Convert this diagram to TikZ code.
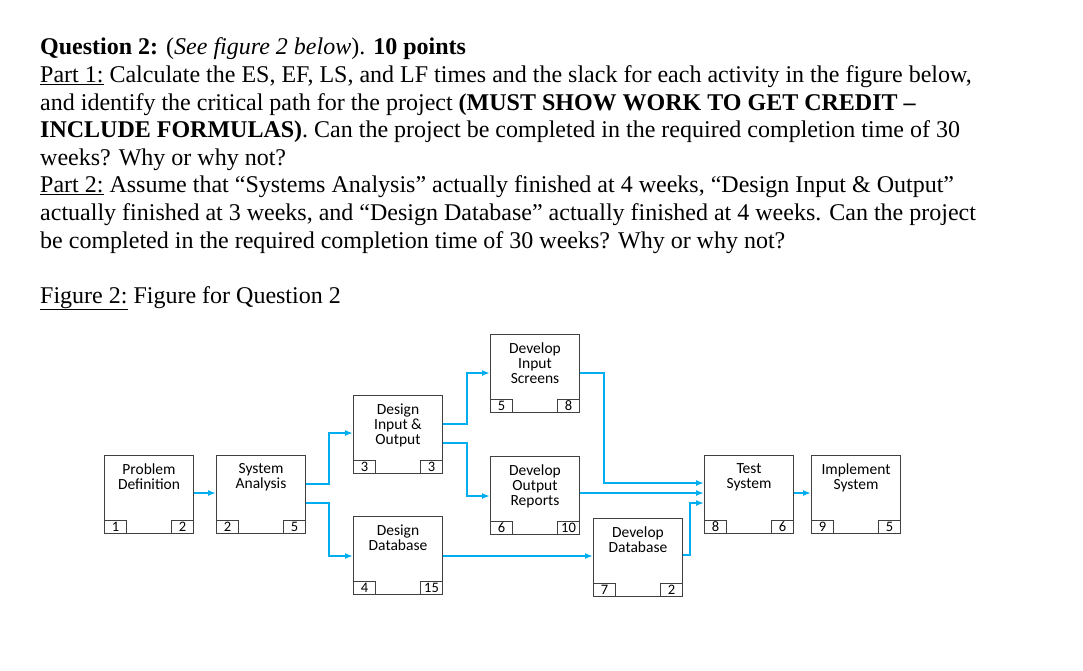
\documentclass[tikz,border=0pt]{standalone}
\usepackage{fontspec}
\setmainfont{Liberation Serif}
\newfontfamily\boxfont{Carlito}
\usetikzlibrary{arrows.meta}
\definecolor{arr}{RGB}{0,174,239}
\tikzset{
  act/.style={draw=black!75,line width=1pt,minimum width=89pt,minimum height=78pt,inner sep=0pt},
  lbl/.style={font=\boxfont\fontsize{15.5}{15}\selectfont,align=center,anchor=north},
  num/.style={draw=black!75,line width=1pt,minimum width=22pt,minimum height=13pt,inner sep=0pt,font=\boxfont\fontsize{14.5}{13}\selectfont},
  con/.style={arr,line width=1.8pt,-{Latex[length=8pt,width=6pt]}},
  txt/.style={anchor=base west,inner sep=0pt,font=\fontsize{24}{27}\selectfont}
}
\newcommand{\actbox}[6]{% name, x, y (top-left), label, n1, n2
  \node[act,anchor=north west] (#1) at (#2,#3) {};
  \node[lbl] (#1l) at ([yshift=-5pt]#1.north) {#4};
  \node[num,anchor=south west] (#1a) at (#1.south west) {#5};
  \node[num,anchor=south east] (#1b) at (#1.south east) {#6};
}
\begin{document}
\begin{tikzpicture}[x=1pt,y=-1pt]
\useasboundingbox (0,0) rectangle (1083,670);
\node[txt] (t1) at (40,54) {\textbf{Question 2:} (\textit{See figure 2 below}). \textbf{10 points}};
\node[txt] (t2) at (40,82) {\underline{Part 1:} Calculate the ES, EF, LS, and LF times and the slack for each activity in the figure below,};
\node[txt] (t3) at (40,110) {and identify the critical path for the project \textbf{(MUST SHOW WORK TO GET CREDIT –}};
\node[txt] (t4) at (40,137) {\textbf{INCLUDE FORMULAS)}. Can the project be completed in the required completion time of 30};
\node[txt] (t5) at (40,165) {weeks? Why or why not?};
\node[txt] (t6) at (40,192) {\underline{Part 2:} Assume that “Systems Analysis” actually finished at 4 weeks, “Design Input \& Output”};
\node[txt] (t7) at (40,220) {actually finished at 3 weeks, and “Design Database” actually finished at 4 weeks. Can the project};
\node[txt] (t8) at (40,248) {be completed in the required completion time of 30 weeks? Why or why not?};
\node[txt] (t9) at (40,303) {\underline{Figure 2:} Figure for Question 2};

\actbox{pd}{104}{455}{Problem\\Definition}{1}{2}
\actbox{sa}{216}{455}{System\\Analysis}{2}{5}
\actbox{dio}{353}{395}{Design\\Input \&\\Output}{3}{3}
\actbox{dd}{353}{516}{Design\\Database}{4}{15}
\actbox{dis}{490}{334}{Develop\\Input\\Screens}{5}{8}
\actbox{dor}{490}{456}{Develop\\Output\\Reports}{6}{10}
\actbox{ddb}{593}{518}{Develop\\Database}{7}{2}
\actbox{ts}{704}{455}{Test\\System}{8}{6}
\actbox{is}{811}{455}{Implement\\System}{9}{5}

\draw[con] (pd.east |- 0,493) -- (sa.west |- 0,493);
\draw[con] (sa.east |- 0,484) -| (329,433) -- (dio.west |- 0,433);
\draw[con] (sa.east |- 0,503) -| (329,556) -- (dd.west |- 0,556);
\draw[con] (dio.east |- 0,424) -| (467,373) -- (dis.west |- 0,373);
\draw[con] (dio.east |- 0,443) -| (467,496) -- (dor.west |- 0,496);
\draw[con] (dis.east |- 0,373) -| (604,483) -- (ts.west |- 0,483);
\draw[con] (dor.east |- 0,493) -- (ts.west |- 0,493);
\draw[con] (dd.east |- 0,556) -- (ddb.west |- 0,556);
\draw[con] (ddb.east |- 0,555) -| (690,503) -- (ts.west |- 0,503);
\draw[con] (ts.east |- 0,493) -- (is.west |- 0,493);
\end{tikzpicture}
\end{document}
